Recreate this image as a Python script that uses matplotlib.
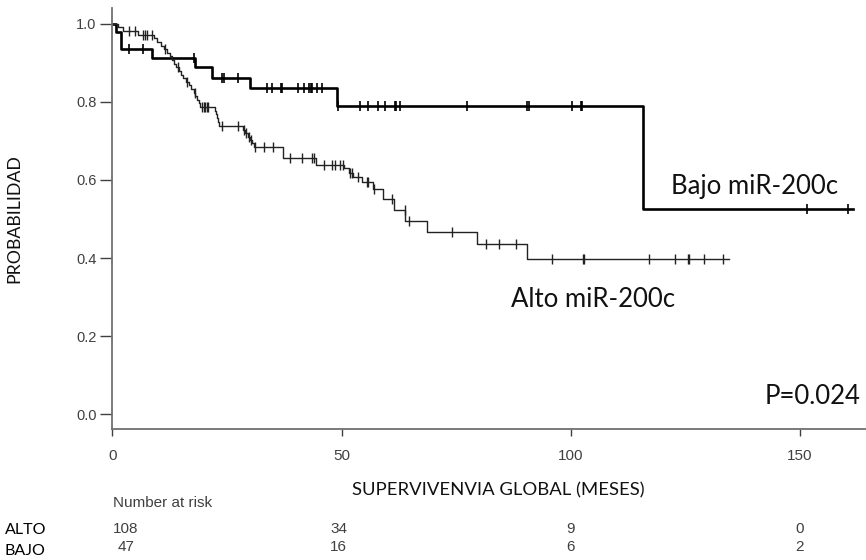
import numpy as np
import matplotlib.pyplot as plt
from matplotlib import transforms

# Kaplan-Meier steps (time in months, survival after the step)
bajo_t = [0, 0.8, 1.8, 8.7, 18.0, 21.7, 30.0, 49.0, 115.9]
bajo_s = [1.0, 0.979, 0.936, 0.913, 0.890, 0.862, 0.835, 0.790, 0.526]
bajo_end = 161.7
bajo_cens = [3.7, 6.7, 17.9, 23.8, 24.3, 27.3, 33.7, 34.9, 36.7, 37.1, 40.4, 41.9,
             42.9, 43.3, 43.6, 44.7, 45.7, 49.2, 54.0, 55.7, 58.0, 59.5, 61.7, 62.0,
             62.8, 77.3, 90.6, 91.0, 100.4, 102.2, 102.4, 151.6, 160.5]

alto_t = [0, 1.3, 2.4, 5.5, 9.0, 9.8, 10.5, 11.2, 11.8, 12.5, 13.0, 13.4, 13.9, 14.5,
          15.0, 15.5, 16.1, 16.6, 17.2, 17.7, 18.1, 18.4, 18.8, 19.1, 22.4, 22.7, 22.9,
          23.1, 23.3, 28.4, 29.0, 29.5, 30.0, 30.5, 30.8, 37.3, 44.4, 50.6, 51.6, 52.6,
          54.5, 56.9, 59.0, 61.5, 63.9, 68.7, 79.5, 90.6]
alto_s = [1.0, 0.991, 0.981, 0.972, 0.963, 0.954, 0.944, 0.935, 0.926, 0.917, 0.907,
          0.898, 0.889, 0.880, 0.870, 0.861, 0.852, 0.843, 0.833, 0.824, 0.815, 0.806,
          0.796, 0.787, 0.778, 0.768, 0.759, 0.749, 0.739, 0.729, 0.720, 0.711, 0.702,
          0.694, 0.685, 0.656, 0.638, 0.630, 0.619, 0.607, 0.596, 0.576, 0.550, 0.523,
          0.496, 0.467, 0.435, 0.397]
alto_end = 134.5
alto_cens = [3.7, 4.9, 6.7, 7.1, 7.5, 8.6, 11.5, 14.2, 16.3, 18.0, 19.5, 19.9, 20.3,
             20.6, 20.9, 23.8, 27.4, 28.8, 29.2, 29.8, 30.3, 31.1, 33.0, 35.1, 38.8,
             41.3, 43.5, 44.0, 46.2, 47.9, 48.6, 49.6, 50.4, 51.8, 52.2, 53.7, 55.5,
             55.8, 57.1, 61.0, 63.8, 64.8, 74.1, 81.5, 84.4, 88.1, 96.0, 102.7, 103.0,
             117.1, 122.7, 125.6, 125.9, 129.2, 133.2]

risk_x = [0, 50, 100, 150]
risk_alto = ['108', '34', '9', '0']
risk_bajo = ['47', '16', '6', '2']

label_font = 'Lato'
tick_font = 'Liberation Sans'


def surv_at(times, surv, x):
    idx = np.searchsorted(times, x, side='right') - 1
    return np.array(surv)[idx]


fig = plt.figure(figsize=(8.66, 5.6), dpi=100)
ax = fig.add_axes([0.1299, 0.2334, 0.8701, 0.7518])

# curves
ax.step(bajo_t + [bajo_end], bajo_s + [bajo_s[-1]], where='post', color='black', lw=1.9)
ax.plot(bajo_cens, surv_at(bajo_t, bajo_s, bajo_cens), ls='none', marker='|',
        ms=7.5, mew=1.2, color='black')

ax.step(alto_t + [alto_end], alto_s + [alto_s[-1]], where='post', color='#222222', lw=1.0)
ax.plot(alto_cens, surv_at(alto_t, alto_s, alto_cens), ls='none', marker='|',
        ms=6.5, mew=1.0, color='#222222')

ax.set_xlim(0, 164.5)
ax.set_ylim(-0.039, 1.040)
ax.set_xticks([0, 50, 100, 150])
ax.set_yticks([0.0, 0.2, 0.4, 0.6, 0.8, 1.0])
ax.set_yticklabels(['0.0', '0.2', '0.4', '0.6', '0.8', '1.0'])

for side in ['top', 'right']:
    ax.spines[side].set_visible(False)
for side in ['left', 'bottom']:
    ax.spines[side].set_color('#707070')
    ax.spines[side].set_linewidth(1.3)

ax.tick_params(axis='y', length=8.5, width=1, color='#404040', pad=3,
               labelsize=10.5, labelcolor='#404040')
ax.tick_params(axis='x', length=5, width=1, color='#404040', pad=9,
               labelsize=11, labelcolor='#404040')
for lab in ax.get_xticklabels() + ax.get_yticklabels():
    lab.set_family(tick_font)

# annotations
ax.text(140.2, 0.564, 'Bajo miR-200c', ha='center', va='baseline',
        fontsize=18.5, family=label_font, color='#111111')
ax.text(105.0, 0.275, 'Alto miR-200c', ha='center', va='baseline',
        fontsize=18.5, family=label_font, color='#111111')
ax.text(163.4, 0.026, 'P=0.024', ha='right', va='baseline',
        fontsize=18.5, family=label_font, color='#111111')

fig.text(498 / 866, 1 - 490 / 560, 'SUPERVIVENVIA GLOBAL (MESES)', ha='center', va='center',
         fontsize=13.3, family=label_font, color='#111111')
fig.text(14 / 866, 1 - 219 / 560, 'PROBABILIDAD', rotation=90, ha='center', va='center',
         fontsize=12.8, family=label_font, color='#111111')

# number at risk table
trans = transforms.blended_transform_factory(ax.transData, fig.transFigure)
ax.text(0.1, 1 - 503 / 560, 'Number at risk', transform=trans, ha='left', va='center',
        fontsize=11, family=tick_font, color='#404040', clip_on=False)
fig.text(5 / 866, 1 - 530 / 560, 'ALTO', ha='left', va='center',
         fontsize=11.5, family=label_font, color='black')
fig.text(5 / 866, 1 - 551 / 560, 'BAJO', ha='left', va='center',
         fontsize=11.5, family=label_font, color='black')
shift = [2.9, -0.6, 0, 0]
for x, a, b, dx in zip(risk_x, risk_alto, risk_bajo, shift):
    ax.text(x + dx, 1 - 529 / 560, a, transform=trans, ha='center', va='center',
            fontsize=11, family=tick_font, color='#404040', clip_on=False)
    ax.text(x + dx, 1 - 547 / 560, b, transform=trans, ha='center', va='center',
            fontsize=11, family=tick_font, color='#404040', clip_on=False)

fig.savefig('out.png', dpi=100)
